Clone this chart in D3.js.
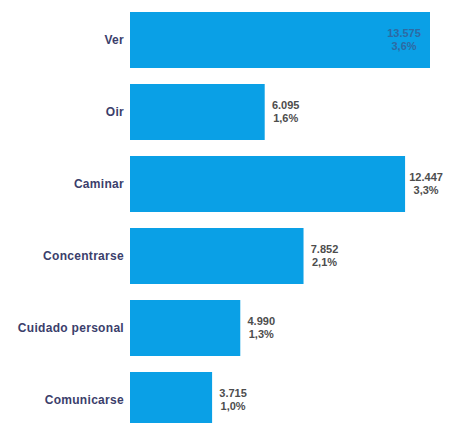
<!DOCTYPE html>
<html>
<head>
<meta charset="utf-8">
<script src="https://cdn.jsdelivr.net/npm/d3@7"></script>
<style>
  html, body { margin: 0; padding: 0; background: #ffffff; }
  svg { display: block; }
</style>
</head>
<body>
<svg id="chart" width="457" height="423"></svg>
<script>
const categories = ["Ver", "Oir", "Caminar", "Concentrarse", "Cuidado personal", "Comunicarse"];
const values = [13575, 6095, 12447, 7852, 4990, 3715];
const percents = [3.6, 1.6, 3.3, 2.1, 1.3, 1.0];

const W = 457, H = 423;
const svg = d3.select("#chart");

const locale = d3.formatLocale({ decimal: ",", thousands: ".", grouping: [3], currency: ["", ""] });
const fmtVal = locale.format(",d");
const fmtPct = locale.format(".1f");

const x = d3.scaleLinear().domain([0, d3.max(values)]).range([130, 430]);
const y = d3.scaleBand().domain(categories).range([4, 436]).paddingInner(16 / 72).paddingOuter(8 / 72);

const data = categories.map((c, i) => ({ cat: c, v: values[i], p: percents[i] }));

svg.append("g").selectAll("rect").data(data).join("rect")
  .attr("x", x(0))
  .attr("y", d => y(d.cat))
  .attr("width", d => x(d.v) - x(0))
  .attr("height", y.bandwidth())
  .attr("fill", "#0aa0e6");

// category labels
const yAxis = d3.axisLeft(y).tickSize(0).tickPadding(6);
const ga = svg.append("g").attr("transform", `translate(${x(0)},0)`).call(yAxis);
ga.select(".domain").remove();
ga.selectAll("text")
  .attr("fill", "#3b3e6b")
  .attr("font-family", "Liberation Sans, Arial, sans-serif")
  .attr("font-weight", "bold")
  .attr("font-size", "12px")
  .attr("letter-spacing", "0.3px");

// value labels (two lines each)
const maxV = d3.max(values);
const labX = d => d.v === maxV ? x(d.v) - 26 : x(d.v) + 21;
const labFill = d => d.v === maxV ? "#2e6aa3" : "#4d4d4d";
const lg = svg.append("g")
  .attr("text-anchor", "middle")
  .attr("font-family", "Liberation Sans, Arial, sans-serif")
  .attr("font-weight", "bold")
  .attr("font-size", "11px");

lg.selectAll("text.val").data(data).join("text")
  .attr("class", "val")
  .attr("fill", labFill)
  .attr("x", labX)
  .attr("y", d => y(d.cat) + y.bandwidth() / 2 - 6.5)
  .attr("dy", "0.35em")
  .text(d => fmtVal(d.v));

lg.selectAll("text.pct").data(data).join("text")
  .attr("class", "pct")
  .attr("fill", labFill)
  .attr("x", labX)
  .attr("y", d => y(d.cat) + y.bandwidth() / 2 + 6.5)
  .attr("dy", "0.35em")
  .text(d => fmtPct(d.p) + "%");
</script>
</body>
</html>
